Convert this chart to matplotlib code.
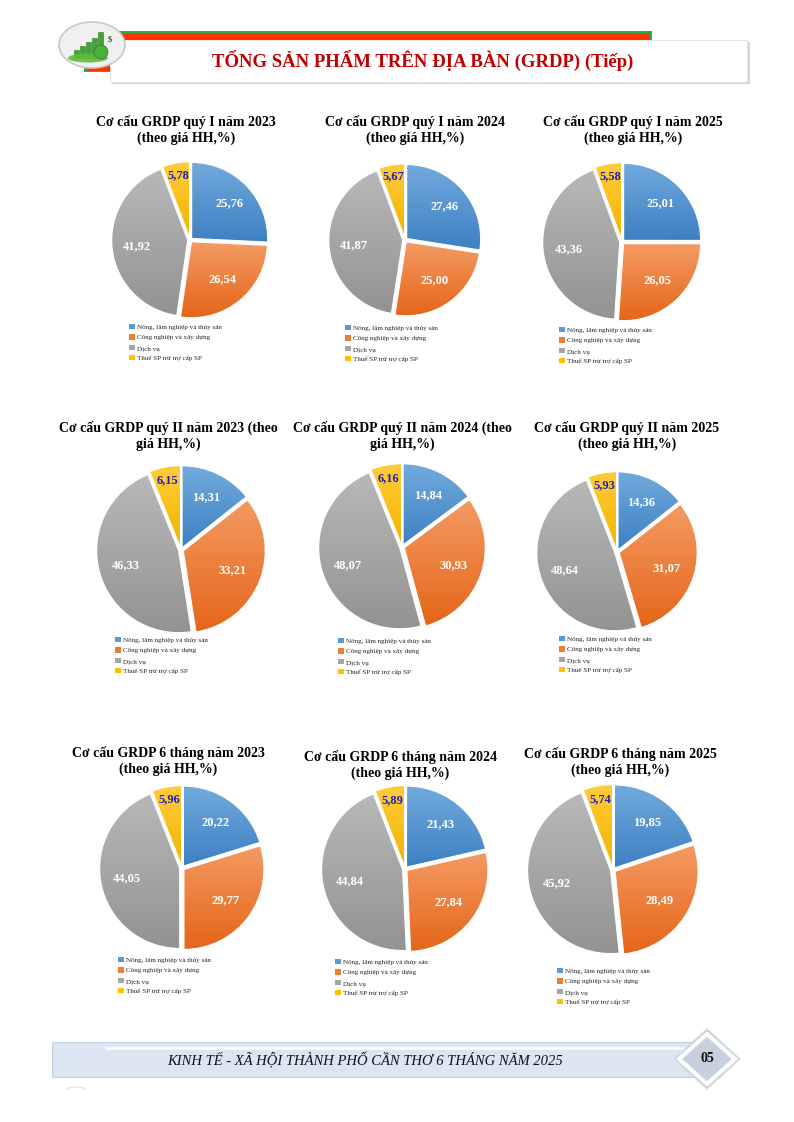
import matplotlib.pyplot as plt
import numpy as np
from matplotlib.patches import Rectangle, Ellipse, Polygon, Patch, Circle, Arc
from matplotlib.colors import LinearSegmentedColormap
from matplotlib.legend import Legend

plt.rcParams['font.family'] = ['Liberation Serif', 'DejaVu Serif']

# ---- data ----
categories = ['Nông, lâm nghiệp và thủy sản', 'Công nghiệp và xây dựng',
              'Dịch vụ', 'Thuế SP trừ trợ cấp SP']

titles = ['Cơ cấu GRDP quý I năm 2023\n(theo giá HH,%)',
          'Cơ cấu GRDP quý I năm 2024\n(theo giá HH,%)',
          'Cơ cấu GRDP quý I năm 2025\n(theo giá HH,%)',
          'Cơ cấu GRDP quý II năm 2023 (theo\ngiá HH,%)',
          'Cơ cấu GRDP quý II năm 2024 (theo\ngiá HH,%)',
          'Cơ cấu GRDP quý II năm 2025\n(theo giá HH,%)',
          'Cơ cấu GRDP 6 tháng năm 2023\n(theo giá HH,%)',
          'Cơ cấu GRDP 6 tháng năm 2024\n(theo giá HH,%)',
          'Cơ cấu GRDP 6 tháng năm 2025\n(theo giá HH,%)']

q1_2023 = [25.76, 26.54, 41.92, 5.78]
q1_2024 = [27.46, 25.00, 41.87, 5.67]
q1_2025 = [25.01, 26.05, 43.36, 5.58]
q2_2023 = [14.31, 33.21, 46.33, 6.15]
q2_2024 = [14.84, 30.93, 48.07, 6.16]
q2_2025 = [14.36, 31.07, 48.64, 5.93]
h1_2023 = [20.22, 29.77, 44.05, 5.96]
h1_2024 = [21.43, 27.84, 44.84, 5.89]
h1_2025 = [19.85, 28.49, 45.92, 5.74]
series = [q1_2023, q1_2024, q1_2025, q2_2023, q2_2024, q2_2025,
          h1_2023, h1_2024, h1_2025]

# ---- layout (pixels) ----
W, H = 794, 1122
pie_pos = [(190, 240, 76), (405, 240, 74), (622, 242, 77),
           (181, 550, 82), (402, 547, 81), (617, 552, 78),
           (182, 868, 80), (405, 869, 81), (613, 870, 83)]
title_pos = [(186, 130), (415, 130), (633, 130),
             (168, 436), (402, 436), (627, 436),
             (168, 761), (400, 765), (620, 762)]
legend_pos = [(129, 324), (345, 325), (559, 327),
              (115, 637), (338, 638), (559, 636),
              (118, 957), (335, 959), (557, 968)]

base_colors = ['#5B9BD5', '#ED7D31', '#A5A5A5', '#FFC000']
top_colors = ['#72AADD', '#F39A62', '#B8B8B8', '#FFCC3A']
bot_colors = ['#3D80C2', '#E5661A', '#939393', '#F2B400']
label_dist = [0.68, 0.64, 0.67, 0.84]

fig = plt.figure(figsize=(W / 100, H / 100), dpi=100)
bg = fig.add_axes([0, 0, 1, 1])
bg.set_xlim(0, W)
bg.set_ylim(H, 0)
bg.axis('off')

# ---- header ----
bg.add_patch(Ellipse((92, 45), 66, 46, facecolor='#F0F0F0', edgecolor='#C8C8C8', lw=1.2, zorder=3))
for bx, bh in [(74, 8), (80, 12), (86, 16), (92, 20), (98, 26)]:
    bg.add_patch(Rectangle((bx, 58 - bh), 5, bh, facecolor='#3FA535', edgecolor='#2E7D23', lw=0.4, zorder=4))
bg.add_patch(Circle((101, 52), 7, facecolor='#4CAF3C', edgecolor='#2E7D23', lw=0.5, zorder=5))
bg.add_patch(Ellipse((88, 58), 40, 9, facecolor='#5DBB3F', edgecolor='none', alpha=0.9, zorder=4))
bg.text(110, 39, '$', fontsize=6, fontweight='bold', color='#1E5E1A', ha='center', va='center', zorder=5)

bg.add_patch(Rectangle((100, 31), 552, 9, facecolor='#22B14C', edgecolor='none', zorder=1))
bg.add_patch(Rectangle((100, 33), 550, 7, facecolor='#FF3300', edgecolor='none', zorder=1))
bg.add_patch(Rectangle((84, 63), 27, 9, facecolor='#22B14C', edgecolor='none', zorder=1))
bg.add_patch(Rectangle((87, 63), 24, 8, facecolor='#FF3300', edgecolor='none', zorder=1))
bg.add_patch(Rectangle((112, 42), 638, 42, facecolor='#D6D6D6', edgecolor='none', zorder=1.5))
bg.add_patch(Rectangle((110, 40), 637, 42, facecolor='white', edgecolor='#E2E2E2', lw=0.6, zorder=2))
bg.text(423, 61, 'TỔNG SẢN PHẨM TRÊN ĐỊA BÀN (GRDP) (Tiếp)', color='#C00000',
        fontsize=13.5, fontweight='bold', ha='center', va='center', zorder=3)

# ---- footer ----
bg.add_patch(Rectangle((52, 1042), 660, 35, facecolor='#DCE6F2', edgecolor='#C6D0DC', lw=0.8, zorder=1))
bg.plot([106, 690], [1047.5, 1047.5], color='white', lw=1.8, zorder=2)
bg.text(365, 1060, 'KINH TẾ - XÃ HỘI THÀNH PHỐ CẦN THƠ 6 THÁNG NĂM 2025', fontsize=10.5,
        fontstyle='italic', color='#111111', ha='center', va='center', zorder=3)
bg.add_patch(Polygon([(707, 1029), (740, 1059), (707, 1089), (674, 1059)],
                     facecolor='#C0C8D2', edgecolor='#D8DDE3', lw=1, zorder=3))
bg.add_patch(Polygon([(707, 1034), (735, 1059), (707, 1084), (679, 1059)],
                     facecolor='#C7D1DD', edgecolor='white', lw=3, zorder=4))
bg.text(707, 1059, '05', fontsize=10, fontweight='bold', color='#111111',
        ha='center', va='center', zorder=5)
bg.add_patch(Arc((76, 1098), 34, 22, theta1=220, theta2=320, edgecolor='#E6E6E6', lw=1, zorder=1))

# ---- titles ----
for (tx, ty), t in zip(title_pos, titles):
    bg.text(tx, ty, t, fontsize=10, fontweight='bold', ha='center', va='center',
            linespacing=1.3, multialignment='center', color='black')

# ---- pies ----
handles = [Patch(facecolor=c, edgecolor='none') for c in base_colors]
lim = 1.06
for (cx, cy, r), vals, (lx, ly) in zip(pie_pos, series, legend_pos):
    half = r * lim
    ax = fig.add_axes([(cx - half) / W, 1 - (cy + half) / H, 2 * half / W, 2 * half / H])
    wedges, _ = ax.pie(vals, startangle=90, counterclock=False, explode=[0.03] * 4,
                       colors=base_colors,
                       wedgeprops=dict(edgecolor='white', linewidth=0.8))
    for i, w in enumerate(wedges):
        ext = w.get_path().get_extents()
        cmap = LinearSegmentedColormap.from_list('g', [bot_colors[i], top_colors[i]])
        grad = np.linspace(0, 1, 64).reshape(-1, 1)
        im = ax.imshow(grad, cmap=cmap, origin='lower', aspect='auto',
                       extent=[ext.x0, ext.x1, ext.y0, ext.y1], zorder=1.5)
        im.set_clip_path(w)
        w.set_facecolor('none')
        w.set_zorder(2)
        mid = np.deg2rad((w.theta1 + w.theta2) / 2)
        wx, wy = w.center
        d = label_dist[i]
        color = '#2020B8' if i == 3 else 'white'
        ax.text(wx + d * np.cos(mid), wy + d * np.sin(mid), f'{vals[i]:.2f}'.replace('.', ','),
                fontsize=9, fontweight='bold', color=color, ha='center', va='center', zorder=3)
    ax.set_xlim(-lim, lim)
    ax.set_ylim(-lim, lim)
    ax.set_aspect('equal')
    ax.axis('off')

    leg = Legend(bg, handles, categories, loc='upper left', bbox_to_anchor=(lx, ly),
                 bbox_transform=bg.transData, frameon=False, fontsize=5.1,
                 handlelength=0.8, handleheight=0.8, handletextpad=0.35,
                 labelspacing=0.58, borderpad=0, borderaxespad=0, labelcolor='#262626')
    bg.add_artist(leg)

fig.savefig('out.png', dpi=100, facecolor='white')
